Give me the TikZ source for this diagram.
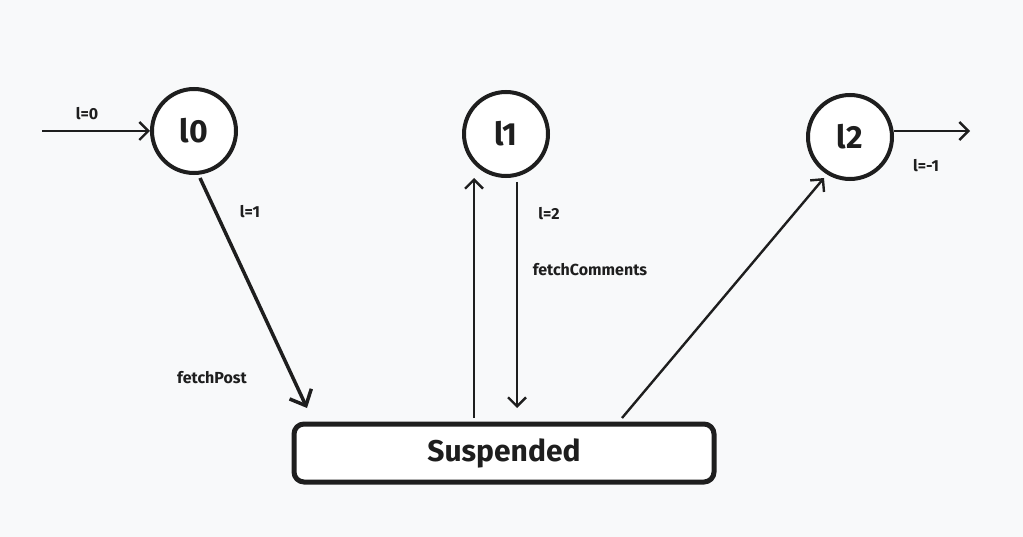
\documentclass[tikz,border=0pt]{standalone}
\usepackage{fontspec}
\setmainfont{Fira Sans}
\usetikzlibrary{arrows.meta}
\definecolor{bg}{HTML}{F8F9FA}
\definecolor{ink}{HTML}{1E1E1E}
\tikzset{
  state/.style={circle, draw=ink, fill=white, line width=4pt, minimum size=84pt, inner sep=0pt, font=\fontsize{32}{32}\selectfont\bfseries, text=ink},
  susp/.style={rectangle, rounded corners=10pt, draw=ink, fill=white, line width=5pt, minimum width=420pt, minimum height=58pt, font=\fontsize{30}{30}\selectfont\bfseries, text=ink},
  conn/.style={draw=ink, line width=2.4pt, -{Straight Barb[length=9pt,width=18pt,line width=2.4pt]}},
  bigconn/.style={draw=ink, line width=3.5pt, -{Straight Barb[length=13pt,width=24pt,line width=3.5pt]}},
  lbl/.style={font=\fontsize{16}{16}\selectfont\bfseries, text=ink, inner sep=0pt}
}
\begin{document}
\begin{tikzpicture}[x=1pt,y=-1pt]
\fill[bg] (0,0) rectangle (1023,537);
\useasboundingbox (0,0) rectangle (1023,537);
\node[state] (L0) at (194,131) {l0};
\node[state] (L1) at (506,134) {l1};
\node[state] (L2) at (850,137) {l2};
\node[susp] (S) at (504,453) {Suspended};
\coordinate (in) at (42,131);
\coordinate (out) at (970,131);
\coordinate (o2) at (894,131);
\coordinate (s1) at (307,408);
\coordinate (s2) at (474,418);
\coordinate (s3) at (517,408);
\coordinate (s4) at (622,418);
\coordinate (t1) at (474,178);
\coordinate (t2) at (517,182);
\coordinate (t3) at (824,178);
\coordinate (f0) at (200,178);
\path[conn] (in) -- (L0.west);
\path[bigconn] (f0) -- (s1);
\path[conn] (s2) -- (t1);
\path[conn] (t2) -- (s3);
\path[conn] (s4) -- (t3);
\path[conn] (o2) -- (out);
\node[lbl] (a) at (87,114) {l=0};
\node[lbl] (b) at (250,212) {l=1};
\node[lbl] (c) at (212,378) {fetchPost};
\node[lbl] (d) at (549,214) {l=2};
\node[lbl] (e) at (590,270) {fetchComments};
\node[lbl] (f) at (926,166) {l=-1};
\end{tikzpicture}
\end{document}
